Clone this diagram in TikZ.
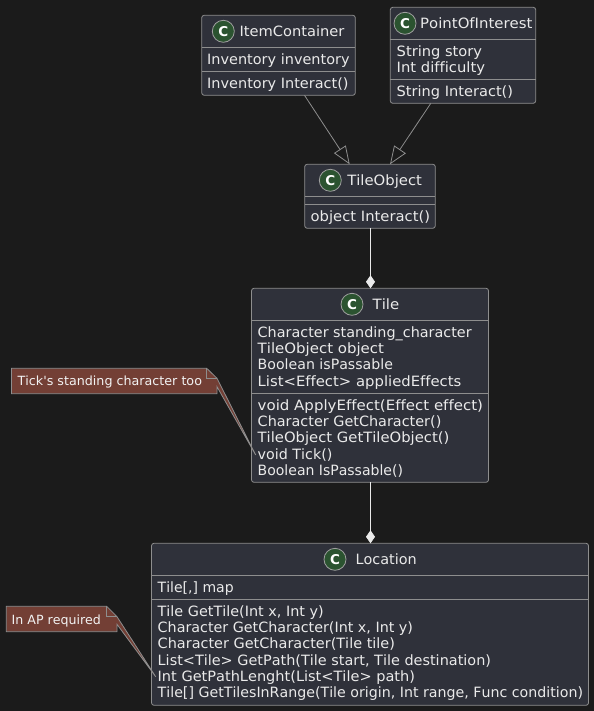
\documentclass[tikz,border=0pt]{standalone}
\usepackage{fontspec}
\setmainfont[Ligatures={TeXOff,CommonOff},Kerning=Off]{DejaVu Sans}
\usetikzlibrary{arrows.meta,calc}
\definecolor{bgc}{HTML}{1B1B1B}
\definecolor{boxc}{HTML}{2F313A}
\definecolor{linec}{HTML}{8E8E8E}
\definecolor{txtc}{HTML}{EAEAEA}
\definecolor{spotc}{HTML}{2B5330}
\definecolor{notec}{HTML}{733F35}
\newcommand{\fw}[2]{\resizebox{#1bp}{\height}{#2}}
\tikzset{
  x=1bp,y=-1bp,
  classbox/.style={draw=linec,fill=boxc,line width=0.8bp,rounded corners=2.5bp,anchor=north west,inner sep=0pt,outer sep=0pt},
  sep/.style={draw=linec,line width=0.8bp},
  txt/.style={anchor=base west,inner sep=0pt,outer sep=0pt,text=txtc,font=\fontsize{14.2bp}{16bp}\selectfont},
  notetxt/.style={anchor=base west,inner sep=0pt,outer sep=0pt,text=white!95!black,font=\fontsize{12.65bp}{15bp}\selectfont},
  spot/.style={circle,draw=linec!85!white,fill=spotc,line width=0.8bp,minimum size=22bp,inner sep=0pt,text=white,font=\bfseries\fontsize{13.5bp}{14bp}\selectfont},
  inherit/.style={draw=linec,line width=0.8bp,-{Triangle[open,length=18bp,width=14bp,line width=0.8bp]}},
  compose/.style={draw=txtc,line width=0.8bp,-{Diamond[fill=txtc,length=13bp,width=9bp]}},
  notebody/.style={draw=linec,fill=notec,line width=0.8bp},
  notearea/.style={anchor=north west,inner sep=0pt,outer sep=0pt},
}
\begin{document}
\begin{tikzpicture}
\useasboundingbox[fill=bgc] (0,0) rectangle (594,711);
% ItemContainer
\node[classbox,minimum width=153.6bp,minimum height=80bp] (ic) at (201.7,15.3) {};
\draw[sep] (201.7,47.3) -- (355.3,47.3) (201.7,71.3) -- (355.3,71.3);
\node[spot] (icspot) at (223.3,31.3) {C};
\node[txt] (icname) at (239.5,36.3) {\fw{105}{ItemContainer}};
\node[txt] (ica) at (207.2,64.7) {\fw{142.4}{Inventory inventory}};
\node[txt] (icm) at (207.2,88.7) {\fw{141.4}{Inventory Interact()}};
% PointOfInterest
\node[classbox,minimum width=145.4bp,minimum height=96bp] (poi) at (390.3,7.3) {};
\draw[sep] (390.3,39.3) -- (535.7,39.3) (390.3,79.3) -- (535.7,79.3);
\node[spot] (poispot) at (405,23.3) {C};
\node[txt] (poiname) at (420.2,28.3) {\fw{112.3}{PointOfInterest}};
\node[txt] (poia) at (396.7,56.7) {\fw{85.4}{String story}};
\node[txt] (poib) at (396.7,72.7) {\fw{88.4}{Int difficulty}};
\node[txt] (poim) at (396.7,96.7) {\fw{116.4}{String Interact()}};
% TileObject
\node[classbox,minimum width=130.6bp,minimum height=64bp] (to) at (304.7,164.3) {};
\draw[sep] (304.7,196.3) -- (435.3,196.3) (304.7,204.3) -- (435.3,204.3);
\node[spot] (tospot) at (330.3,180.3) {C};
\node[txt] (toname) at (347.3,185.3) {\fw{74.7}{TileObject}};
\node[txt] (tom) at (310.7,221.7) {\fw{119.4}{object Interact()}};
% Tile
\node[classbox,minimum width=237bp,minimum height=194bp] (tile) at (251.5,288.3) {};
\draw[sep] (251.5,320.3) -- (488.5,320.3) (251.5,393.3) -- (488.5,393.3);
\node[spot] (tilespot) at (352,304.3) {C};
\node[txt] (tilename) at (372.7,309.3) {\fw{26.6}{Tile}};
\node[txt] (ta) at (257.7,337.7) {\fw{214}{Character standing\_character}};
\node[txt] (tb) at (257.7,353.8) {\fw{126.3}{TileObject object}};
\node[txt] (tc) at (257.7,369.9) {\fw{135.3}{Boolean isPassable}};
\node[txt] (td) at (257.7,386) {\fw{203.7}{List<Effect> appliedEffects}};
\node[txt] (te) at (257.7,410.7) {\fw{225.3}{void ApplyEffect(Effect effect)}};
\node[txt] (tf) at (257.7,426.8) {\fw{183.7}{Character GetCharacter()}};
\node[txt] (tg) at (257.7,442.9) {\fw{191.7}{TileObject GetTileObject()}};
\node[txt] (th) at (257.7,459) {\fw{74.7}{void Tick()}};
\node[txt] (ti) at (257.7,475.1) {\fw{145.3}{Boolean IsPassable()}};
% Location
\node[classbox,minimum width=437bp,minimum height=162bp] (loc) at (151.5,543.3) {};
\draw[sep] (151.5,575.3) -- (588.5,575.3) (151.5,599.3) -- (588.5,599.3);
\node[spot] (locspot) at (335,559.3) {C};
\node[txt] (locname) at (355.5,564.3) {\fw{61.3}{Location}};
\node[txt] (la) at (157.7,592.7) {\fw{76}{Tile[,] map}};
\node[txt] (lb) at (157.7,616.7) {\fw{166}{Tile GetTile(Int x, Int y)}};
\node[txt] (lc) at (157.7,632.8) {\fw{255.3}{Character GetCharacter(Int x, Int y)}};
\node[txt] (ld) at (157.7,648.9) {\fw{237.3}{Character GetCharacter(Tile tile)}};
\node[txt] (le) at (157.7,665) {\fw{333.3}{List<Tile> GetPath(Tile start, Tile destination)}};
\node[txt] (lf) at (157.7,681.1) {\fw{257.3}{Int GetPathLenght(List<Tile> path)}};
\node[txt] (lg) at (157.7,697.2) {\fw{425.3}{Tile[] GetTilesInRange(Tile origin, Int range, Func condition)}};
% Connectors
\draw[inherit] ($(ic.south west)+(102.8,0)$) -- ($(to.north west)+(45,0)$);
\draw[inherit] ($(poi.south west)+(40.5,0)$) -- ($(to.north west)+(85.3,0)$);
\draw[compose] ($(to.south west)+(65.8,0)$) -- ($(tile.north west)+(119,0)$);
\draw[compose] ($(tile.south west)+(119,0)$) -- ($(loc.north west)+(219,0)$);
% Notes
\node[notearea,minimum width=205.5bp,minimum height=25.4bp] (n1) at (11.5,368.3) {};
\coordinate (n1tip) at ($(th.base west)+(-2,-4)$);
\draw[notebody] (n1.north west) -- ($(n1.north east)+(-10.3,0)$) -- ($(n1.north east)+(0,10)$) -- (n1tip) -- ($(n1.north east)+(0,18.4)$) -- (n1.south east) -- (n1.south west) -- cycle;
\draw[notebody,fill=none] ($(n1.north east)+(-10.3,0)$) -- ($(n1.north east)+(-10.3,10)$) -- ($(n1.north east)+(0,10)$);
\node[notetxt] (n1t) at (17.7,385) {\fw{184.3}{Tick's standing character too}};
\node[notearea,minimum width=110.7bp,minimum height=25.4bp] (n2) at (6.3,606.3) {};
\coordinate (n2tip) at ($(lf.base west)+(-2,-4.4)$);
\draw[notebody] (n2.north west) -- ($(n2.north east)+(-10.3,0)$) -- ($(n2.north east)+(0,10.4)$) -- (n2tip) -- ($(n2.north east)+(0,18)$) -- (n2.south east) -- (n2.south west) -- cycle;
\draw[notebody,fill=none] ($(n2.north east)+(-10.3,0)$) -- ($(n2.north east)+(-10.3,10.4)$) -- ($(n2.north east)+(0,10.4)$);
\node[notetxt] (n2t) at (11.7,624) {\fw{89.3}{In AP required}};
\end{tikzpicture}
\end{document}
